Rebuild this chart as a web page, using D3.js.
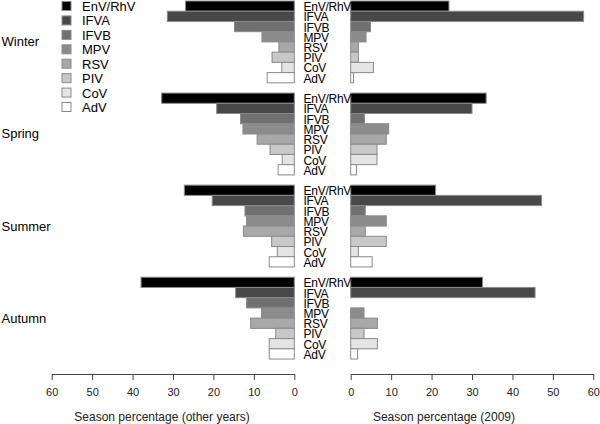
<!DOCTYPE html>
<html>
<head>
<meta charset="utf-8">
<script src="https://cdn.jsdelivr.net/npm/d3@7"></script>
<style>
  html, body { margin: 0; padding: 0; background: #fff; }
  svg { display: block; font-family: "Liberation Sans", Arial, sans-serif; }
</style>
</head>
<body>
<svg id="chart" width="600" height="424"></svg>
<script>
const seasons = ["Winter", "Spring", "Summer", "Autumn"];
const viruses = ["EnV/RhV", "IFVA", "IFVB", "MPV", "RSV", "PIV", "CoV", "AdV"];
const colors = ["#000000", "#484848", "#707070", "#8c8c8c", "#a8a8a8", "#c8c8c8", "#e4e4e4", "#ffffff"];
// Season percentage (other years), per season in virus order
const otherWinter = [26.9, 31.4, 14.8, 8.0, 3.8, 5.5, 3.1, 6.7];
const otherSpring = [32.8, 19.2, 13.3, 12.7, 9.2, 6.0, 3.0, 4.0];
const otherSummer = [27.2, 20.3, 12.2, 11.8, 12.6, 5.6, 4.2, 6.2];
const otherAutumn = [37.9, 14.5, 11.8, 8.1, 10.8, 4.6, 6.2, 6.2];
// Season percentage (2009)
const y2009Winter = [24.3, 57.6, 4.9, 3.8, 1.9, 1.9, 5.6, 0.7];
const y2009Spring = [33.5, 30.0, 3.4, 9.4, 8.8, 6.5, 6.5, 1.4];
const y2009Summer = [21.0, 47.2, 3.6, 8.8, 3.6, 8.8, 1.9, 5.3];
const y2009Autumn = [32.6, 45.6, 0, 3.3, 6.6, 3.3, 6.6, 1.7];
const tickValues = [0, 10, 20, 30, 40, 50, 60];

const otherYears = [otherWinter, otherSpring, otherSummer, otherAutumn];
const year2009 = [y2009Winter, y2009Spring, y2009Summer, y2009Autumn];

const svg = d3.select("#chart");

const barH = 10.23;
const yOuter = d3.scaleBand().domain(seasons).range([1, 1 + 4 * 9 * barH]).paddingInner(0);
const yInner = d3.scaleBand().domain(viruses).range([0, 8 * barH]).padding(0);
const color = d3.scaleOrdinal().domain(viruses).range(colors);

const xLeft = d3.scaleLinear().domain([0, 60]).range([294.3, 51.7]);
const xRight = d3.scaleLinear().domain([0, 60]).range([350.7, 593.3]);

const rows = [];
seasons.forEach((s, si) => {
  viruses.forEach((v, vi) => {
    rows.push({ season: s, virus: v, other: otherYears[si][vi], y2009: year2009[si][vi] });
  });
});

const rowY = d => yOuter(d.season) + yInner(d.virus);

// left bars
svg.append("g").selectAll("rect").data(rows).join("rect")
  .attr("x", d => xLeft(d.other))
  .attr("y", rowY)
  .attr("width", d => xLeft(0) - xLeft(d.other))
  .attr("height", yInner.bandwidth())
  .attr("fill", d => color(d.virus))
  .attr("stroke", "#8a8a8a")
  .attr("stroke-width", 1);

// right bars
svg.append("g").selectAll("rect").data(rows.filter(d => d.y2009 > 0)).join("rect")
  .attr("x", xRight(0))
  .attr("y", rowY)
  .attr("width", d => xRight(d.y2009) - xRight(0))
  .attr("height", yInner.bandwidth())
  .attr("fill", d => color(d.virus))
  .attr("stroke", "#8a8a8a")
  .attr("stroke-width", 1);

// virus labels in the middle
svg.append("g").selectAll("text").data(rows).join("text")
  .attr("x", 303.5)
  .attr("y", d => rowY(d) + yInner.bandwidth() / 2 + 1)
  .attr("dominant-baseline", "central")
  .attr("font-size", 12)
  .attr("letter-spacing", -0.25)
  .attr("fill", "#000")
  .text(d => d.virus);

// season labels
svg.append("g").selectAll("text").data(seasons).join("text")
  .attr("x", 1.5)
  .attr("y", s => yOuter(s) + 4 * barH)
  .attr("dominant-baseline", "central")
  .attr("font-size", 13)
  .attr("fill", "#000")
  .text(s => s);

// legend
const legend = svg.append("g");
const legendRow = d3.scaleLinear().domain([0, 7]).range([6, 107]);
legend.selectAll("rect").data(viruses).join("rect")
  .attr("x", 62)
  .attr("y", (v, i) => legendRow(i) - 4.5)
  .attr("width", 9)
  .attr("height", 9)
  .attr("fill", v => color(v))
  .attr("stroke", "#8a8a8a");
legend.selectAll("text").data(viruses).join("text")
  .attr("x", 82)
  .attr("y", (v, i) => legendRow(i) + 0.5)
  .attr("dominant-baseline", "central")
  .attr("font-size", 13)
  .attr("fill", "#000")
  .text(v => v);

// axes
const axisY = 374;
function styleAxis(g) {
  g.select(".domain").attr("stroke", "#444");
  g.selectAll(".tick line").attr("stroke", "#444");
  g.selectAll(".tick text").attr("font-size", 11).attr("fill", "#222")
    .attr("font-family", "'Liberation Sans', Arial, sans-serif");
}
svg.append("g").attr("transform", `translate(0,${axisY})`)
  .call(d3.axisBottom(xLeft).tickValues(tickValues).tickSize(6).tickSizeOuter(0).tickPadding(8).tickFormat(d3.format("d")))
  .call(styleAxis);
svg.append("g").attr("transform", `translate(0,${axisY})`)
  .call(d3.axisBottom(xRight).tickValues(tickValues).tickSize(6).tickSizeOuter(0).tickPadding(8).tickFormat(d3.format("d")))
  .call(styleAxis);

// axis titles
svg.append("text").attr("x", 162).attr("y", 417).attr("text-anchor", "middle")
  .attr("dominant-baseline", "central").attr("font-size", 12).attr("fill", "#222")
  .text("Season percentage (other years)");
svg.append("text").attr("x", 444).attr("y", 417).attr("text-anchor", "middle")
  .attr("dominant-baseline", "central").attr("font-size", 12).attr("fill", "#222")
  .text("Season percentage (2009)");
</script>
</body>
</html>
